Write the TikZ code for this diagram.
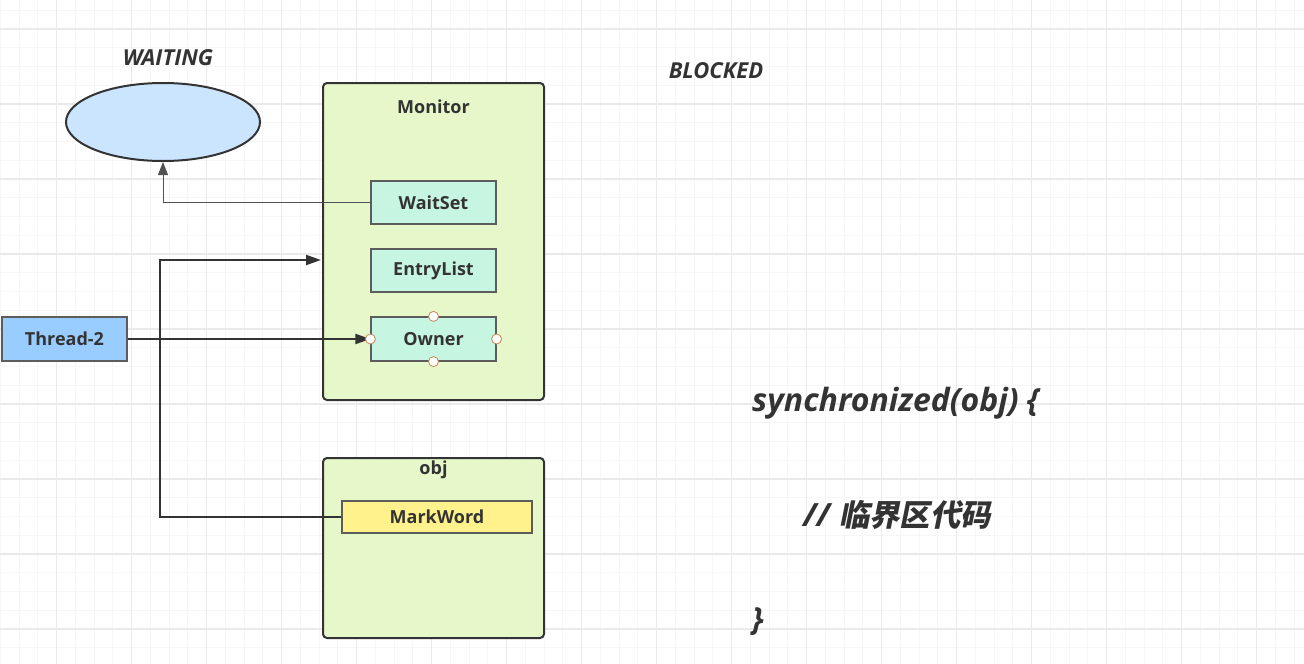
\documentclass[tikz,border=0pt]{standalone}
\usepackage{fontspec}
\setmainfont{Open Sans}
\newfontfamily\cjk[Scale=0.95,FakeSlant=0.2,AutoFakeBold=2.5]{Noto Sans CJK SC}
\usetikzlibrary{arrows.meta,shapes.geometric}
\definecolor{ink}{HTML}{333333}
\definecolor{gridminor}{HTML}{F6F6F6}
\definecolor{gridmajor}{HTML}{EAEAEA}
\definecolor{monfill}{HTML}{E6F8C9}
\definecolor{mintfill}{HTML}{C6F5E1}
\definecolor{threadfill}{HTML}{99CCFF}
\definecolor{ellfill}{HTML}{CCE5FF}
\definecolor{markfill}{HTML}{FFF28C}
\definecolor{handle}{HTML}{C8875A}
\tikzset{
  container/.style={draw=ink, line width=2pt, fill=monfill, rounded corners=4pt, inner sep=0pt},
  field/.style={draw=ink!80, line width=1.2pt, fill=mintfill, minimum width=125pt, minimum height=43pt, inner sep=0pt, font=\fontsize{18}{21}\selectfont\bfseries, text=ink},
  ttl/.style={font=\fontsize{18}{21}\selectfont\bfseries, text=ink, inner sep=0pt},
  state/.style={font=\fontsize{22}{26}\selectfont\bfseries\itshape, text=ink, inner sep=0pt},
  code/.style={font=\fontsize{32}{38}\selectfont\bfseries\itshape, text=ink, inner sep=0pt, anchor=base west},
  heavy/.style={draw=ink, line width=2pt, -{Triangle[length=15pt,width=10pt]}},
  light/.style={draw=ink!85, line width=1pt, -{Triangle[length=13pt,width=10pt]}},
  grip/.style={circle, draw=handle, fill=white, line width=0.8pt, minimum size=10pt, inner sep=0pt},
}
\begin{document}
\begin{tikzpicture}[x=1pt,y=-1pt]
\useasboundingbox (0,0) rectangle (1304,664);
\fill[white] (0,0) rectangle (1304,664);
% grid
\foreach \k in {0,...,69} {\draw[gridminor, line width=1pt] ({0.45+18.75*\k},0) -- ({0.45+18.75*\k},664);}
\foreach \k in {0,...,35} {\draw[gridminor, line width=1pt] (0,{10.25+18.75*\k}) -- (1304,{10.25+18.75*\k});}
\foreach \k in {0,...,16} {\draw[gridmajor, line width=1.2pt] ({56.7+75*\k},0) -- ({56.7+75*\k},664);}
\foreach \k in {0,...,8} {\draw[gridmajor, line width=1.2pt] (0,{29+75*\k}) -- (1304,{29+75*\k});}

% containers
\node[container, minimum width=221pt, minimum height=317pt] (monitor) at (433.5,241.5) {};
\node[ttl] (montitle) at (433.5,107) {Monitor};
\node[container, minimum width=221pt, minimum height=180pt] (obj) at (433.5,548) {};
\node[ttl] (objtitle) at (433.5,470) {obj};

% fields
\node[field] (waitset) at (433.5,202.5) {WaitSet};
\node[field] (entrylist) at (433.5,270.5) {EntryList};
\node[field, minimum height=44pt] (owner) at (433.5,339) {Owner};
\node[field, fill=markfill, minimum width=190pt, minimum height=32pt] (markword) at (437,517) {MarkWord};

% thread
\node[field, fill=threadfill, minimum height=44pt] (thread) at (64.5,339) {Thread-2};

% waiting ellipse
\node[ellipse, draw=ink, line width=2pt, fill=ellfill, minimum width=194pt, minimum height=78pt, inner sep=0pt] (waiting) at (163,122) {};
\node[state] (waitlbl) at (168,58) {WAITING};
\node[state] (blocked) at (716,71) {BLOCKED};

% code
\node[code] (sync) at (752,411) {synchronized(obj) \{};
\node[code] (crit) at (803,526) {//\hspace{9pt}{\cjk\bfseries 临界区代码}};
\node[code] (close) at (752,630) {\}};

% connectors
\coordinate (c1) at (160,517);
\coordinate (c2) at (160,260);
\coordinate (monin) at (321,260);
\draw[light] (waitset.west) -| (waiting.south);
\draw[heavy] (markword.west) -- (c1) -- (c2) -- (monin);
\draw[heavy] (thread.east) -- (owner.west);

% selection handles
\node[grip] (g1) at (owner.north) {};
\node[grip] (g2) at (owner.south) {};
\node[grip] (g3) at (owner.west) {};
\node[grip] (g4) at (owner.east) {};
\end{tikzpicture}
\end{document}
